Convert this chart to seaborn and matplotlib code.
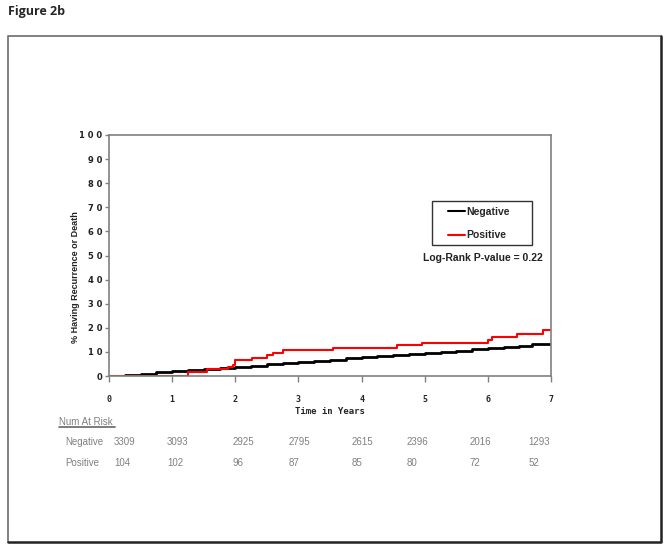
import numpy as np
import pandas as pd
import matplotlib
matplotlib.use("Agg")
import matplotlib.pyplot as plt
import matplotlib.transforms as mtransforms
from matplotlib.lines import Line2D
from matplotlib.patches import Rectangle
import seaborn as sns

# Kaplan-Meier style cumulative incidence (%)
neg_years = [0, 0.25, 0.5, 0.75, 1.0, 1.25, 1.5, 1.75, 2.0, 2.25, 2.5, 2.75, 3.0,
             3.25, 3.5, 3.75, 4.0, 4.25, 4.5, 4.75, 5.0, 5.25, 5.5, 5.75, 6.0,
             6.25, 6.5, 6.7, 7.0]
neg_pct = [0, 0.4, 0.9, 1.5, 2.1, 2.5, 3.0, 3.4, 3.9, 4.3, 4.8, 5.3, 5.8,
           6.3, 6.8, 7.3, 7.8, 8.2, 8.7, 9.2, 9.7, 10.1, 10.5, 11.0, 11.5,
           11.9, 12.4, 13.1, 13.1]

pos_years = [0, 1.25, 1.55, 1.89, 1.97, 2.0, 2.27, 2.5, 2.6, 2.75, 3.55, 4.56, 4.95, 6.0, 6.07, 6.46, 6.87, 7.0]
pos_pct = [0, 1.5, 2.8, 3.9, 4.6, 6.6, 7.6, 8.7, 9.7, 10.6, 11.5, 12.7, 13.8, 14.9, 16.3, 17.6, 19.1, 19.1]

groups = ["Negative", "Positive"]
colors = {"Negative": "black", "Positive": "red"}

x_ticks = [0, 1, 2, 3, 4, 5, 6, 7]
y_ticks = [0, 10, 20, 30, 40, 50, 60, 70, 80, 90, 100]

risk_neg = [3309, 3093, 2925, 2795, 2615, 2396, 2016, 1293]
risk_pos = [104, 102, 96, 87, 85, 80, 72, 52]
risk_col_x = [0.08, 0.92, 1.95, 2.84, 3.84, 4.72, 5.71, 6.64]  # column anchors (years)

df = pd.concat([
    pd.DataFrame({"years": neg_years, "pct": neg_pct, "group": "Negative"}),
    pd.DataFrame({"years": pos_years, "pct": pos_pct, "group": "Positive"}),
])

sns.set_style("white")
plt.rcParams["font.family"] = ["Liberation Sans", "DejaVu Sans"]

fig = plt.figure(figsize=(6.69, 5.49), dpi=100)
ax = fig.add_axes([109 / 669, 173 / 549, 442 / 669, 241 / 549])

sns.lineplot(data=df, x="years", y="pct", hue="group", palette=colors,
             drawstyle="steps-post", estimator=None, legend=False, ax=ax)
for line, lw in zip(ax.lines, [2.0, 1.5]):
    line.set_linewidth(lw)

ax.set_xlim(0, 7)
ax.set_ylim(0, 100)
ax.set_xticks(x_ticks)
ax.set_xticklabels([str(v) for v in x_ticks], fontsize=6, fontweight="bold",
                   family="DejaVu Sans Mono")
ax.set_yticks(y_ticks)
ax.set_yticklabels([" ".join(str(v)) for v in y_ticks], fontsize=6,
                   fontweight="bold", family="DejaVu Sans", color="#222222")
ax.tick_params(axis="x", length=4, width=1, color="#808080", pad=10, direction="out")
ax.tick_params(axis="y", length=3, width=1, color="#808080", pad=2, direction="out")
ax.tick_params(bottom=True, left=True)
for s in ax.spines.values():
    s.set_color("#808080")
    s.set_linewidth(1.2)
ax.set_xlabel("")
ax.set_ylabel("")

# legend: box drawn separately so it can be wider than its contents
ax.add_patch(Rectangle((0.731, 0.544), 0.226, 0.182, transform=ax.transAxes,
                       facecolor="white", edgecolor="#333333", lw=1.0, zorder=3))
handles = [Line2D([0], [0], color=colors[g], lw=1.5) for g in groups]
leg = ax.legend(handles, groups, loc="center left", bbox_to_anchor=(0.767, 0.632),
                frameon=False, prop={"weight": "bold", "size": 7.5},
                handlelength=1.6, handletextpad=0.15, labelspacing=1.3,
                borderpad=0, borderaxespad=0)
leg.set_zorder(4)

ax.text(0.846, 0.49, "Log-Rank P-value = 0.22", transform=ax.transAxes,
        ha="center", va="center", fontsize=7.5, fontweight="bold", color="#222222")

# axis titles
fig.text(76 / 669, 1 - 277 / 549, "% Having Recurrence or Death", rotation=90,
         ha="center", va="center", fontsize=6.5, fontweight="bold", color="#222222")
fig.text(330 / 669, 1 - 412 / 549, "Time in Years", ha="center", va="center",
         fontsize=6.5, fontweight="bold", family="DejaVu Sans Mono")

# number at risk table
fig.text(59 / 669, 1 - 422 / 549, "Num At Risk", ha="left", va="center",
         fontsize=7, color="#808080")
fig.add_artist(Line2D([59 / 669, 115 / 669], [1 - 427 / 549] * 2,
                      color="#666666", lw=1.2, transform=fig.transFigure))
trans = mtransforms.blended_transform_factory(ax.transData, fig.transFigure)
for label, row, ypix in [("Negative", risk_neg, 442), ("Positive", risk_pos, 463)]:
    fig.text(65 / 669, 1 - ypix / 549, label, ha="left", va="center",
             fontsize=7, color="#808080")
    for xv, n in zip(risk_col_x, row):
        ax.text(xv, 1 - ypix / 549, str(n), transform=trans, ha="left",
                va="center", fontsize=7, color="#808080", clip_on=False)

# figure label and outer frame
fig.text(8 / 669, 1 - 11 / 549, "Figure 2b", ha="left", va="center",
         fontsize=9, fontweight="bold", family="Open Sans")
x0, x1 = 8 / 669, 661 / 669
y0, y1 = 1 - 542 / 549, 1 - 36 / 549
fig.add_artist(Line2D([x0, x0, x1], [y0, y1, y1], color="#777777", lw=1.3,
                      transform=fig.transFigure))
fig.add_artist(Line2D([x0, x1, x1], [y0, y0, y1], color="#222222", lw=1.8,
                      transform=fig.transFigure))

fig.savefig("out.png", dpi=100)
